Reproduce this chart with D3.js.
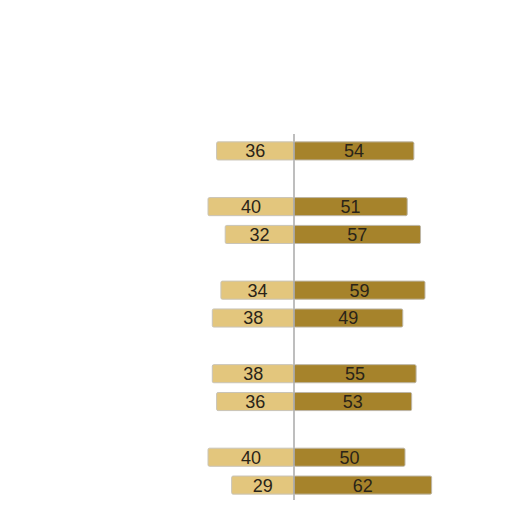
<!DOCTYPE html>
<html>
<head>
<meta charset="utf-8">
<script src="https://cdn.jsdelivr.net/npm/d3@7"></script>
<style>
  body { margin: 0; background: #fff; }
  svg { display: block; }
</style>
</head>
<body>
<div id="chart"></div>
<script>
// slots in draw order; null = empty spacer row between groups
const rows = ['r1', null, 'r2', 'r3', null, 'r4', 'r5', null, 'r6', 'r7', null, 'r8', 'r9'];
const leftValues = [36, 40, 32, 34, 38, 38, 36, 40, 29];
const rightValues = [54, 51, 57, 59, 49, 55, 53, 50, 62];

const width = 512, height = 512;
const leftColor = '#e3c67d', rightColor = '#a6832b';

const svg = d3.select('#chart').append('svg')
  .attr('width', width)
  .attr('height', height);

const slotKeys = rows.map((d, i) => d || ('gap' + i));
const y = d3.scaleBand()
  .domain(slotKeys)
  .range([137, 499])
  .paddingInner(0.35)
  .paddingOuter(0.175);

// each side has its own scale, both starting at the centre line
const xLeft = d3.scaleLinear()
  .domain([0, 100])
  .range([294, 79]);
const xRight = d3.scaleLinear()
  .domain([0, 100])
  .range([294, 516]);

const data = rows.filter(d => d).map((key, i) => ({
  key: key,
  left: leftValues[i],
  right: rightValues[i]
}));

const g = svg.append('g').classed('bars', true);

const row = g.selectAll('g.row')
  .data(data)
  .enter()
  .append('g')
  .classed('row', true)
  .attr('transform', d => `translate(0, ${y(d.key)})`);

row.append('rect')
  .attr('x', d => xLeft(d.left))
  .attr('y', 0)
  .attr('width', d => xLeft(0) - xLeft(d.left))
  .attr('height', y.bandwidth())
  .attr('rx', 1.5)
  .style('fill', leftColor)
  .style('stroke', '#c9c4b8')
  .style('stroke-width', 1);

row.append('rect')
  .attr('x', xRight(0))
  .attr('y', 0)
  .attr('width', d => xRight(d.right) - xRight(0))
  .attr('height', y.bandwidth())
  .attr('rx', 1.5)
  .style('fill', rightColor)
  .style('stroke', '#bdb6a6')
  .style('stroke-width', 1);

row.append('text')
  .attr('x', d => (xLeft(d.left) + xLeft(0)) / 2)
  .attr('y', y.bandwidth() / 2)
  .attr('dy', '0.36em')
  .attr('text-anchor', 'middle')
  .style('font-family', '"Liberation Sans", Arial, sans-serif')
  .style('font-size', '18px')
  .style('fill', '#2a2418')
  .text(d => d.left);

row.append('text')
  .attr('x', d => (xRight(0) + xRight(d.right)) / 2)
  .attr('y', y.bandwidth() / 2)
  .attr('dy', '0.36em')
  .attr('text-anchor', 'middle')
  .style('font-family', '"Liberation Sans", Arial, sans-serif')
  .style('font-size', '18px')
  .style('fill', '#2a2418')
  .text(d => d.right);

// centre axis
svg.append('line')
  .attr('x1', xLeft(0))
  .attr('x2', xLeft(0))
  .attr('y1', 134)
  .attr('y2', 500)
  .style('stroke', '#a8a8a8')
  .style('stroke-width', 1.5);
</script>
</body>
</html>
